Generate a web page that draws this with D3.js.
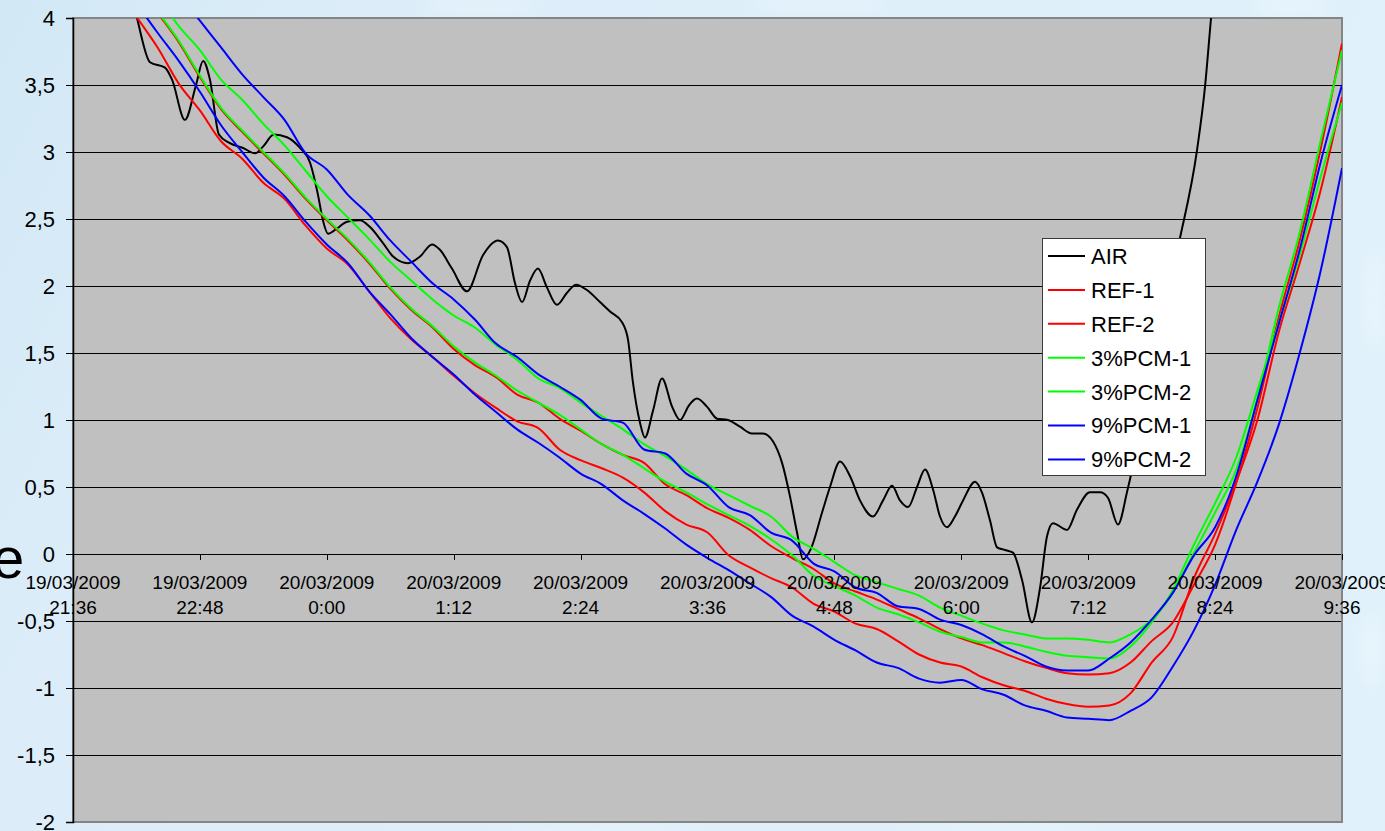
<!DOCTYPE html>
<html>
<head>
<meta charset="utf-8">
<script src="https://cdn.jsdelivr.net/npm/d3@7"></script>
<style>
  html, body { margin: 0; padding: 0; overflow: hidden; }
  body { width: 1385px; height: 831px; }
  svg { display: block; font-family: "Liberation Sans", Arial, sans-serif; }
</style>
</head>
<body>
<svg id="chart" width="1385" height="831"></svg>
<script>
// ---- data -------------------------------------------------------------
// Start of the record: 19/03/2009 21:36. Times below are minutes after it.
const startTime = "19/03/2009 21:36";

const xTicks = [
  "19/03/2009 21:36", "19/03/2009 22:48", "20/03/2009 0:00", "20/03/2009 1:12",
  "20/03/2009 2:24", "20/03/2009 3:36", "20/03/2009 4:48", "20/03/2009 6:00",
  "20/03/2009 7:12", "20/03/2009 8:24", "20/03/2009 9:36"
];
const yTicks = [-2, -1.5, -1, -0.5, 0, 0.5, 1, 1.5, 2, 2.5, 3, 3.5, 4];

// Air temperature (°C)
const airMinutes = [
  30, 36.3, 43.7, 52.2, 56.2, 63.5, 69.8, 73.8, 77.7, 82.8,
  88.5, 96.5, 103.3, 107.8, 114, 121.4, 128.8, 134.5, 139, 141.8,
  144.7, 149.8, 155.5, 162.8, 168.5, 175.9, 181.6, 190.1, 196.9, 203.7,
  208.2, 215, 223.5, 232.6, 241.1, 246.2, 250.8, 254.8, 259.3, 263.8,
  268.9, 274.6, 280.3, 285.4, 291.6, 299, 304.7, 311.5, 314.9, 317.7,
  321.7, 324.5, 329.1, 334.2, 339.9, 344.4, 349.5, 354, 359.7, 365.4,
  371.6, 378.4, 385.2, 391.5, 397.2, 402.3, 406.8, 410.8, 414.2, 418.7,
  425, 429.5, 435.2, 440.9, 446.5, 453.9, 459.6, 464.7, 469.2, 473.8,
  478.9, 483.4, 488, 491.9, 495.9, 500.4, 505, 511.8, 515.7, 520.3,
  524.3, 528.8, 533.3, 538.4, 544.1, 548.7, 552.6, 556, 564, 569.6,
  577, 582.7, 587.2, 592.9, 598, 601.4, 608.2, 616.7, 628.1, 637.7,
  642.3, 645.7, 650
];
const airTemp = [
  4.35, 4.00, 3.67, 3.63, 3.54, 3.24, 3.50, 3.68, 3.54, 3.13,
  3.07, 3.03, 2.99, 3.04, 3.13, 3.11, 3.03, 2.92, 2.68, 2.49,
  2.39, 2.43, 2.48, 2.49, 2.44, 2.32, 2.22, 2.17, 2.22, 2.31,
  2.27, 2.13, 1.96, 2.23, 2.34, 2.29, 2.02, 1.88, 2.04, 2.13,
  1.99, 1.86, 1.95, 2.01, 1.97, 1.88, 1.81, 1.73, 1.60, 1.28,
  0.98, 0.87, 1.07, 1.31, 1.10, 1.00, 1.11, 1.16, 1.10, 1.01,
  1.00, 0.95, 0.90, 0.90, 0.84, 0.68, 0.43, 0.16, -0.04, 0.04,
  0.31, 0.50, 0.69, 0.58, 0.40, 0.28, 0.40, 0.51, 0.40, 0.35,
  0.50, 0.63, 0.48, 0.28, 0.20, 0.28, 0.40, 0.54, 0.46, 0.25,
  0.05, 0.03, 0.01, -0.19, -0.51, -0.25, 0.13, 0.23, 0.18, 0.33,
  0.46, 0.46, 0.42, 0.22, 0.46, 0.66, 1.15, 1.73, 2.36, 3.01,
  3.49, 4.00, 4.60
];

// Slab surface temperatures (°C), one reading every 12 minutes
const slabMinutes = [
  0, 12, 24, 36, 48, 60, 72, 84, 96, 108,
  120, 132, 144, 156, 168, 180, 192, 204, 216, 228,
  240, 252, 264, 276, 288, 300, 312, 324, 336, 348,
  360, 372, 384, 396, 408, 420, 432, 444, 456, 468,
  480, 492, 504, 516, 528, 540, 552, 564, 576, 588,
  600, 612, 624, 636, 648, 660, 672, 684, 696, 708,
  720
];
const ref1 = [
  4.72, 4.48, 4.25, 4.01, 3.78, 3.51, 3.31, 3.08, 2.95, 2.77,
  2.65, 2.45, 2.28, 2.16, 1.96, 1.76, 1.60, 1.47, 1.33, 1.20,
  1.09, 0.99, 0.94, 0.78, 0.70, 0.64, 0.57, 0.46, 0.32, 0.22,
  0.16, -0.01, -0.10, -0.18, -0.25, -0.37, -0.43, -0.52, -0.56, -0.65,
  -0.75, -0.81, -0.84, -0.92, -0.98, -1.02, -1.08, -1.12, -1.14, -1.13,
  -1.04, -0.81, -0.62, -0.18, 0.15, 0.54, 1.00, 1.65, 2.17, 2.72,
  3.41
];
const ref2 = [
  4.99, 4.75, 4.51, 4.27, 4.04, 3.82, 3.56, 3.32, 3.15, 2.99,
  2.83, 2.65, 2.49, 2.34, 2.17, 1.98, 1.82, 1.69, 1.53, 1.41,
  1.32, 1.19, 1.13, 1.01, 0.92, 0.82, 0.74, 0.68, 0.52, 0.44,
  0.34, 0.27, 0.18, 0.06, -0.03, -0.11, -0.22, -0.28, -0.34, -0.41,
  -0.48, -0.56, -0.63, -0.68, -0.74, -0.80, -0.85, -0.89, -0.90, -0.89,
  -0.81, -0.65, -0.51, -0.23, 0.07, 0.53, 1.09, 1.76, 2.34, 3.03,
  3.81
];
const pcm3_1 = [
  5.00, 4.76, 4.52, 4.28, 4.05, 3.83, 3.57, 3.33, 3.16, 3.00,
  2.84, 2.66, 2.50, 2.35, 2.18, 1.99, 1.83, 1.70, 1.55, 1.43,
  1.33, 1.22, 1.13, 1.04, 0.93, 0.82, 0.74, 0.64, 0.54, 0.46,
  0.37, 0.29, 0.21, 0.11, -0.01, -0.16, -0.24, -0.31, -0.40, -0.45,
  -0.51, -0.58, -0.62, -0.66, -0.66, -0.69, -0.73, -0.76, -0.77, -0.78,
  -0.69, -0.51, -0.27, 0.07, 0.38, 0.72, 1.22, 1.72, 2.23, 2.82,
  3.37
];
const pcm3_2 = [
  5.08, 4.85, 4.63, 4.40, 4.16, 3.94, 3.76, 3.54, 3.39, 3.21,
  3.05, 2.86, 2.67, 2.51, 2.35, 2.18, 2.04, 1.90, 1.78, 1.69,
  1.56, 1.45, 1.31, 1.24, 1.13, 1.03, 0.93, 0.82, 0.73, 0.63,
  0.52, 0.44, 0.36, 0.28, 0.13, 0.04, -0.06, -0.16, -0.21, -0.26,
  -0.31, -0.40, -0.46, -0.52, -0.57, -0.60, -0.63, -0.63, -0.64, -0.66,
  -0.60, -0.49, -0.29, 0.01, 0.31, 0.63, 1.16, 1.83, 2.40, 3.09,
  3.76
];
const pcm9_1 = [
  4.78, 4.56, 4.34, 4.11, 3.89, 3.68, 3.45, 3.20, 3.00, 2.81,
  2.67, 2.48, 2.31, 2.17, 1.96, 1.79, 1.61, 1.47, 1.34, 1.19,
  1.06, 0.93, 0.83, 0.72, 0.60, 0.52, 0.40, 0.30, 0.19, 0.07,
  -0.03, -0.12, -0.22, -0.32, -0.46, -0.54, -0.64, -0.72, -0.81, -0.85,
  -0.93, -0.96, -0.94, -1.01, -1.05, -1.13, -1.17, -1.22, -1.23, -1.24,
  -1.17, -1.07, -0.84, -0.57, -0.23, 0.18, 0.54, 0.96, 1.50, 2.12,
  2.88
];
const pcm9_2 = [
  5.20, 4.99, 4.79, 4.58, 4.38, 4.18, 3.98, 3.78, 3.58, 3.41,
  3.24, 2.99, 2.87, 2.68, 2.53, 2.34, 2.18, 2.02, 1.90, 1.75,
  1.57, 1.47, 1.34, 1.25, 1.15, 1.01, 0.98, 0.78, 0.75, 0.60,
  0.51, 0.35, 0.29, 0.16, 0.10, -0.07, -0.13, -0.25, -0.29, -0.39,
  -0.41, -0.49, -0.53, -0.60, -0.69, -0.76, -0.84, -0.87, -0.87, -0.78,
  -0.66, -0.49, -0.29, -0.01, 0.20, 0.58, 1.15, 1.71, 2.27, 2.93,
  3.50
];

const seriesNames = ["AIR", "REF-1", "REF-2", "3%PCM-1", "3%PCM-2", "9%PCM-1", "9%PCM-2"];
const seriesColors = ["#000000", "#ff0000", "#ff0000", "#00ff00", "#00ff00", "#0000ff", "#0000ff"];

// ---- layout -----------------------------------------------------------
const W = 1385, H = 831;
const plot = { left: 73, right: 1342, top: 18, bottom: 822 };

const svg = d3.select("#chart");
const defs = svg.append("defs");

// frosty light-blue backdrop
const bg = defs.append("linearGradient").attr("id", "bgGrad")
  .attr("x1", "0").attr("y1", "0").attr("x2", "1").attr("y2", "0.3");
bg.append("stop").attr("offset", "0").attr("stop-color", "#d2e8f5");
bg.append("stop").attr("offset", "0.25").attr("stop-color", "#dcedf9");
bg.append("stop").attr("offset", "1").attr("stop-color", "#e0f1fb");
defs.append("filter").attr("id", "soft")
  .append("feGaussianBlur").attr("stdDeviation", 8);

svg.append("rect").attr("width", W).attr("height", H).attr("fill", "url(#bgGrad)");
const frost = svg.append("g").attr("filter", "url(#soft)").attr("opacity", 0.25);
[[480, 6, 60, 8], [820, 4, 70, 8], [1290, 6, 40, 10], [1375, 300, 10, 50],
 [1372, 650, 10, 40], [600, 830, 120, 5], [1000, 830, 100, 5]]
  .forEach(([cx, cy, rx, ry]) => frost.append("ellipse")
    .attr("cx", cx).attr("cy", cy).attr("rx", rx).attr("ry", ry).attr("fill", "#ffffff"));

// ---- scales -----------------------------------------------------------
const parseTime = d3.timeParse("%d/%m/%Y %H:%M");
const t0 = parseTime(startTime);
const toDate = m => new Date(t0.getTime() + m * 60000);
const tickDates = xTicks.map(parseTime);

const x = d3.scaleTime()
  .domain([tickDates[0], tickDates[tickDates.length - 1]])
  .range([plot.left, plot.right]);
const y = d3.scaleLinear().domain([-2, 4]).range([plot.bottom, plot.top]);

const locale = d3.formatLocale({ decimal: ",", thousands: ".", grouping: [3], currency: ["", ""], minus: "-" });
const fmtY = locale.format("~g");

// ---- plot area --------------------------------------------------------
svg.append("rect")
  .attr("x", plot.left).attr("y", plot.top)
  .attr("width", plot.right - plot.left).attr("height", plot.bottom - plot.top)
  .attr("fill", "#c0c0c0");

// horizontal gridlines
svg.append("g").selectAll("line")
  .data(yTicks.filter(v => v > -2 && v < 4))
  .join("line")
  .attr("x1", plot.left).attr("x2", plot.right)
  .attr("y1", d => Math.round(y(d)) + 0.5).attr("y2", d => Math.round(y(d)) + 0.5)
  .attr("stroke", "#000").attr("stroke-width", 1.2);

// plot frame
svg.append("rect")
  .attr("x", plot.left).attr("y", plot.top)
  .attr("width", plot.right - plot.left).attr("height", plot.bottom - plot.top)
  .attr("fill", "none").attr("stroke", "#858585").attr("stroke-width", 2);

// ---- series -----------------------------------------------------------
defs.append("clipPath").attr("id", "plotClip")
  .append("rect")
  .attr("x", plot.left).attr("y", plot.top)
  .attr("width", plot.right - plot.left).attr("height", plot.bottom - plot.top);

const line = d3.line()
  .x(d => x(toDate(d[0])))
  .y(d => y(d[1]))
  .curve(d3.curveMonotoneX);

const slabSeries = [ref1, ref2, pcm3_1, pcm3_2, pcm9_1, pcm9_2];
const allSeries = [
  d3.zip(airMinutes, airTemp),
  ...slabSeries.map(vals => d3.zip(slabMinutes, vals))
];

svg.append("g").attr("clip-path", "url(#plotClip)")
  .selectAll("path")
  .data(allSeries)
  .join("path")
  .attr("d", line)
  .attr("fill", "none")
  .attr("stroke", (d, i) => seriesColors[i])
  .attr("stroke-width", 2)
  .attr("stroke-linejoin", "round");

// ---- axes -------------------------------------------------------------
const yAxis = svg.append("g")
  .attr("transform", `translate(${plot.left},0)`)
  .call(d3.axisLeft(y).tickValues(yTicks).tickFormat(fmtY).tickSize(7).tickPadding(11));
yAxis.select(".domain").attr("stroke", "#000").attr("stroke-width", 1.5);
yAxis.selectAll(".tick line").attr("stroke", "#000");
yAxis.selectAll("text")
  .attr("font-family", "'Liberation Sans', Arial, sans-serif")
  .attr("font-size", 22).attr("fill", "#000");

// x axis runs along 0 °C
const xAxisY = y(0);
const xAxis = svg.append("g");
xAxis.selectAll("line")
  .data(tickDates)
  .join("line")
  .attr("x1", d => Math.round(x(d)) + 0.5).attr("x2", d => Math.round(x(d)) + 0.5)
  .attr("y1", xAxisY).attr("y2", xAxisY + 6)
  .attr("stroke", "#000");
const fmtDay = d3.timeFormat("%d/%m/%Y");
const fmtHour = d3.timeFormat("%-H:%M");
const xLabels = xAxis.selectAll("text")
  .data(tickDates)
  .join("text")
  .attr("text-anchor", "middle")
  .attr("font-size", 19)
  .attr("fill", "#000");
xLabels.append("tspan").attr("x", d => x(d)).attr("y", xAxisY + 35).text(d => fmtDay(d));
xLabels.append("tspan").attr("x", d => x(d)).attr("y", xAxisY + 60).text(d => fmtHour(d));

// edge of the vertical title
svg.append("text")
  .attr("x", -8).attr("y", 578)
  .attr("font-size", 58).attr("fill", "#000")
  .text("e");

// ---- legend -----------------------------------------------------------
const lg = svg.append("g");
lg.append("rect")
  .attr("x", 1042.5).attr("y", 238.5).attr("width", 163).attr("height", 237)
  .attr("fill", "#fff").attr("stroke", "#3a3a3a").attr("stroke-width", 1);
const rows = lg.selectAll("g.row")
  .data(seriesNames)
  .join("g")
  .attr("class", "row")
  .attr("transform", (d, i) => `translate(0,${256 + i * 33.9})`);
rows.append("line")
  .attr("x1", 1048).attr("x2", 1085).attr("y1", 0).attr("y2", 0)
  .attr("stroke", (d, i) => seriesColors[i]).attr("stroke-width", 2);
rows.append("text")
  .attr("x", 1091).attr("y", 0).attr("dy", "0.36em")
  .attr("font-size", 22).attr("fill", "#000")
  .text(d => d);
</script>
</body>
</html>
